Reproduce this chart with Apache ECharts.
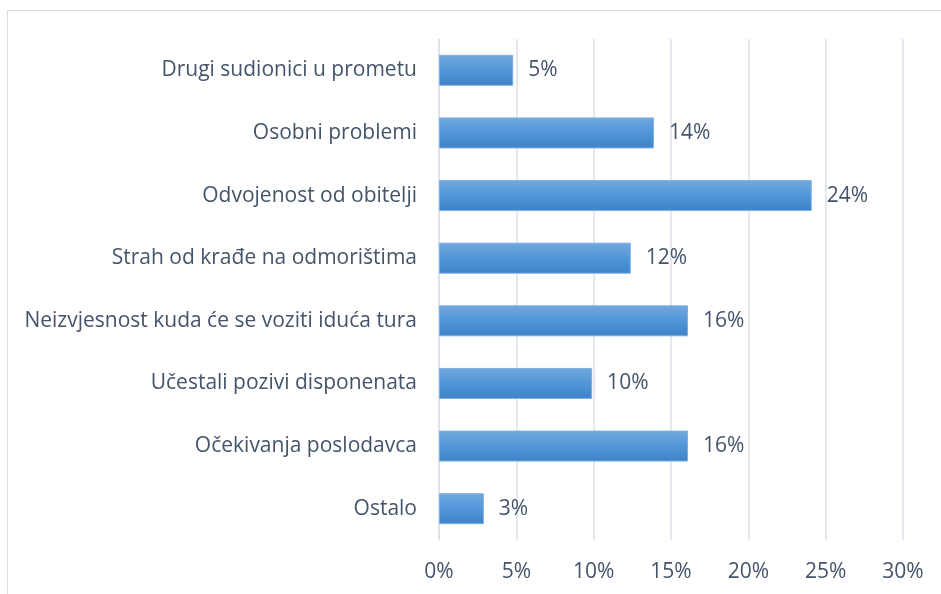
<!DOCTYPE html>
<html>
<head>
<meta charset="utf-8">
<script src="https://cdn.jsdelivr.net/npm/echarts@6/dist/echarts.min.js"></script>
<style>
  html, body { margin: 0; padding: 0; background: #fff; }
  #chart { width: 941px; height: 594px; }
</style>
</head>
<body>
<div id="chart"></div>
<script>
// Categories listed bottom-to-top (ECharts category y-axis starts at the bottom)
const categories = [
  'Ostalo',
  'Očekivanja poslodavca',
  'Učestali pozivi disponenata',
  'Neizvjesnost kuda će se voziti iduća tura',
  'Strah od krađe na odmorištima',
  'Odvojenost od obitelji',
  'Osobni problemi',
  'Drugi sudionici u prometu'
];
// Share of respondents, percent
const values = [2.9, 16.1, 9.9, 16.1, 12.4, 24.1, 13.9, 4.8];
const axisTicks = [0, 5, 10, 15, 20, 25, 30];

const textColor = '#44546a';
const fontFamily = 'Open Sans, Noto Sans, sans-serif';
const fontSize = 21;

const chart = echarts.init(document.getElementById('chart'));
chart.setOption({
  animation: false,
  backgroundColor: '#fff',
  graphic: [{
    type: 'rect',
    shape: { x: 7.5, y: 10.5, width: 960, height: 620 },
    style: { fill: 'none', stroke: '#d9dde3', lineWidth: 1 },
    silent: true,
    z: -1
  }],
  grid: { left: 439, right: 38, top: 39, bottom: 54 },
  xAxis: {
    type: 'value',
    min: axisTicks[0],
    max: axisTicks[axisTicks.length - 1],
    interval: axisTicks[1] - axisTicks[0],
    axisLine: { show: false },
    axisTick: { show: false },
    splitLine: { lineStyle: { color: '#dde1e8', width: 1.5 } },
    axisLabel: {
      formatter: v => v + '%',
      color: textColor,
      fontSize: fontSize,
      fontFamily: fontFamily,
      margin: 22
    }
  },
  yAxis: {
    type: 'category',
    data: categories,
    axisLine: { show: true, lineStyle: { color: '#dde1e8', width: 1.5 } },
    axisTick: { show: false },
    axisLabel: {
      color: textColor,
      fontSize: fontSize,
      fontFamily: fontFamily,
      margin: 22,
      padding: [4, 0, 0, 0]
    }
  },
  series: [{
    type: 'bar',
    data: values,
    barWidth: 31,
    itemStyle: {
      color: new echarts.graphic.LinearGradient(0, 0, 0, 1, [
        { offset: 0, color: '#72a8dd' },
        { offset: 0.5, color: '#5196d8' },
        { offset: 1, color: '#3e82c8' }
      ]),
      borderColor: '#7db0e0',
      borderWidth: 1
    },
    label: {
      show: true,
      position: 'right',
      distance: 15,
      padding: [4, 0, 0, 0],
      formatter: p => Math.round(p.value) + '%',
      color: textColor,
      fontSize: fontSize,
      fontFamily: fontFamily
    }
  }]
});
</script>
</body>
</html>
